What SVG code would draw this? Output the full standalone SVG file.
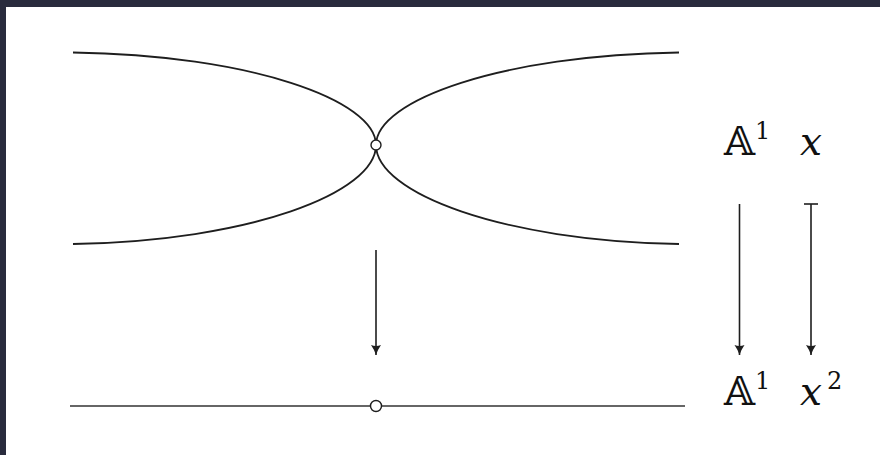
<svg xmlns="http://www.w3.org/2000/svg" width="880" height="455" viewBox="0 0 880 455">
<defs>
<style>
.c{fill:none;stroke:#1e1e1e;stroke-width:1.8}
.a{fill:none;stroke:#1e1e1e;stroke-width:1.6}
.pt{fill:#fff;stroke:#1e1e1e;stroke-width:1.4}
.bb{font-family:"DejaVu Serif","DejaVu Sans",serif;fill:#111}
.m{font-family:"DejaVu Serif",serif;fill:#111}
.i{font-style:italic}
</style>
<marker id="ah" viewBox="0 0 10 13" refX="10" refY="6.5" markerWidth="10" markerHeight="13" markerUnits="userSpaceOnUse" orient="auto">
<path d="M0,1.5 Q5,5 10,6.5 Q5,8 0,11.5 Q2.2,6.5 0,1.5 Z" fill="#1e1e1e"/>
</marker>
</defs>
<rect x="0" y="0" width="880" height="455" fill="#fff"/>
<rect x="0" y="0" width="880" height="7" fill="#292b3d"/>
<rect x="0" y="0" width="6" height="455" fill="#292b3d"/>
<g id="curves">
<path class="c" d="M73,52.5 C250,55 376,100 376,145"/>
<path class="c" d="M679,52.5 C502,55 376,100 376,145"/>
<path class="c" d="M73,244 C250,241 376,193 376,145"/>
<path class="c" d="M679,244 C502,241 376,193 376,145"/>
<circle class="pt" cx="376" cy="145" r="5"/>
</g>
<g id="baseline">
<line x1="70" y1="406" x2="685" y2="406" stroke="#333" stroke-width="1.7"/>
<circle class="pt" cx="376" cy="406" r="5.5"/>
</g>
<g id="connectors">
<line class="a" x1="376" y1="250" x2="376" y2="355" marker-end="url(#ah)"/>
<line class="a" x1="739.5" y1="204" x2="739.5" y2="355" marker-end="url(#ah)"/>
<line class="a" x1="811" y1="204" x2="811" y2="355" marker-end="url(#ah)"/>
<line class="a" x1="804" y1="204" x2="818" y2="204"/>
</g>
<g id="label-A1-top">
<text class="bb" x="724" y="155" font-size="40">𝔸</text>
<text class="m" x="755" y="139" font-size="24">1</text>
</g>
<g id="label-x">
<text class="m i" x="800" y="155" font-size="39">x</text>
</g>
<g id="label-A1-bottom">
<text class="bb" x="724" y="405" font-size="40">𝔸</text>
<text class="m" x="755" y="389" font-size="24">1</text>
</g>
<g id="label-x2">
<text class="m i" x="800" y="405" font-size="39">x</text>
<text class="m" x="827" y="389" font-size="24">2</text>
</g>
</svg>
